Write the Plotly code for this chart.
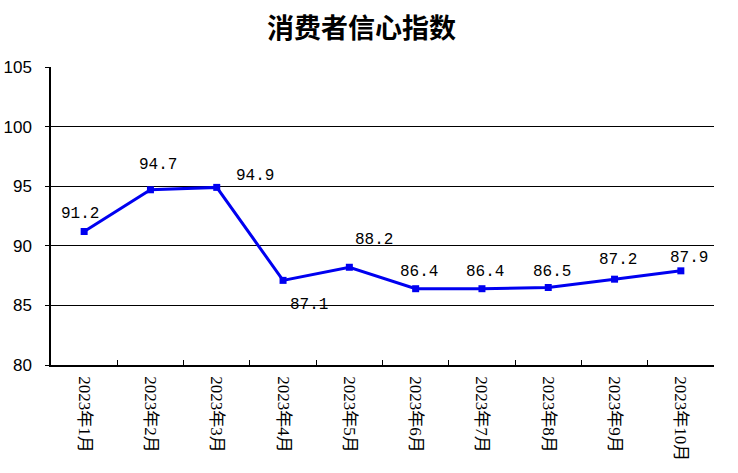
import plotly.graph_objects as go

categories = ["2023年1月", "2023年2月", "2023年3月", "2023年4月", "2023年5月",
              "2023年6月", "2023年7月", "2023年8月", "2023年9月", "2023年10月"]
values = [91.2, 94.7, 94.9, 87.1, 88.2, 86.4, 86.4, 86.5, 87.2, 87.9]
y_ticks = [80, 85, 90, 95, 100, 105]
grid_vals = [85, 90, 95, 100]
title_text = "消费者信心指数"

# label offsets (pixels) per point
label_dx = [-4, 8, 38, 26, 25, 3, 3, 4, 3, 8]
label_dy = [-18, -25, -11, 25, -27, -17, -17, -16, -19, -13]

fig = go.Figure()
# invisible trace so the grid axis is drawn
fig.add_trace(go.Scatter(x=categories, y=values, mode="none", yaxis="y",
                         hoverinfo="skip", showlegend=False))
fig.add_trace(go.Scatter(
    x=categories, y=values, mode="lines+markers",
    line=dict(color="#0000F0", width=3),
    marker=dict(symbol="square", size=7, color="#0000F0"),
    yaxis="y2", hoverinfo="skip", showlegend=False,
))

for c, v, dx, dy in zip(categories, values, label_dx, label_dy):
    fig.add_annotation(x=c, y=v, yref="y2", text=f"{v:.1f}", showarrow=False,
                       xshift=dx, yshift=-dy,
                       font=dict(family="Liberation Mono, DejaVu Sans Mono", size=16, color="#000"))

fig.update_layout(
    width=738, height=473,
    margin=dict(l=51, r=24, t=67, b=108),
    paper_bgcolor="white", plot_bgcolor="white",
    title=dict(text=title_text, x=0.49, xanchor="center", y=0.94, yanchor="middle",
               font=dict(family="Noto Sans CJK SC", size=27, color="#000", weight="bold"),
               automargin=False),
    xaxis=dict(type="category", tickson="boundaries", ticks="inside", ticklen=5,
               tickcolor="#000", showline=True, linecolor="#000", linewidth=1.5,
               tickangle=90, showgrid=False, automargin=False, ticklabelstandoff=6,
               tickfont=dict(family="Liberation Serif, Noto Sans CJK SC", size=17, color="#000"),
               range=[-0.5, 9.5]),
    yaxis=dict(range=[80, 105], tickvals=grid_vals, showticklabels=False, ticks="",
               showgrid=True, gridcolor="#000", gridwidth=1, showline=False, zeroline=False,
               automargin=False),
    yaxis2=dict(range=[80, 105], tickvals=y_ticks, overlaying="y", side="left", anchor="x",
                showgrid=False, showline=True, linecolor="#000", linewidth=1.5,
                ticks="outside", ticklen=4, tickcolor="#000", zeroline=False,
                automargin=False, ticklabelstandoff=10,
                tickfont=dict(family="Liberation Sans, Arial", size=17, color="#000")),
)

fig.write_html("out.html", post_script="document.body.style.margin='0';",
               config={"displayModeBar": False})
